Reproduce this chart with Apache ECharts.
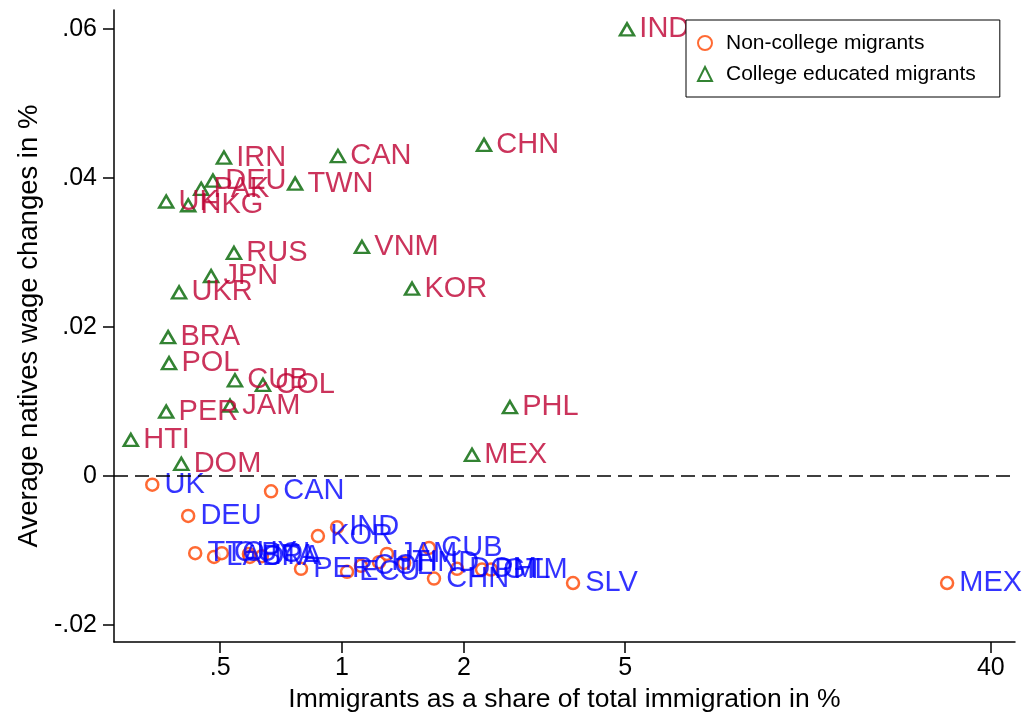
<!DOCTYPE html>
<html>
<head>
<meta charset="utf-8">
<script src="https://cdn.jsdelivr.net/npm/echarts@6/dist/echarts.min.js"></script>
<style>
  html, body { margin: 0; padding: 0; background: #fff; }
  #chart { width: 1023px; height: 718px; }
</style>
</head>
<body>
<div id="chart"></div>
<script>
// non-college migrants (circles, blue labels)
var ncNames = ['UK', 'CAN', 'DEU', 'IND', 'KOR', 'TTO', 'LAO', 'GUY', 'POL', 'BRA', 'ITA',
    'PER', 'ECU', 'COL', 'HTI', 'JAM', 'HND', 'CUB', 'CHN', 'DOM', 'PHL', 'GTM', 'SLV', 'MEX'];
var ncShare = [0.340, 0.668, 0.417, 0.972, 0.872, 0.434, 0.483, 0.505, 0.589, 0.592, 0.634,
    0.792, 1.029, 1.114, 1.234, 1.291, 1.423, 1.640, 1.687, 1.923, 2.217, 2.333, 3.719, 31.2];
var ncWage = [-0.0012, -0.0021, -0.0054, -0.0069, -0.0081, -0.0104, -0.0109, -0.0104, -0.0105, -0.0109, -0.0108,
    -0.0125, -0.0129, -0.0121, -0.0116, -0.0105, -0.0117, -0.0097, -0.0138, -0.0125, -0.0126, -0.0126, -0.0144, -0.0144];

// college educated migrants (triangles, red labels)
var colNames = ['IND', 'CHN', 'CAN', 'IRN', 'DEU', 'PAK', 'UK', 'HKG', 'TWN', 'RUS', 'VNM', 'JPN',
    'UKR', 'KOR', 'BRA', 'POL', 'CUB', 'COL', 'JAM', 'PER', 'PHL', 'HTI', 'DOM', 'MEX'];
var colShare = [5.055, 2.242, 0.977, 0.511, 0.480, 0.449, 0.368, 0.417, 0.766, 0.541, 1.120, 0.475,
    0.396, 1.489, 0.372, 0.374, 0.544, 0.638, 0.529, 0.368, 2.598, 0.301, 0.401, 2.094];
var colWage = [0.0599, 0.0444, 0.0429, 0.0427, 0.0396, 0.0385, 0.0368, 0.0363, 0.0392, 0.0299, 0.0307, 0.0268,
    0.0246, 0.0251, 0.0186, 0.0151, 0.0128, 0.0122, 0.0094, 0.0086, 0.0092, 0.0048, 0.0016, 0.0028];

var xTicks = [0.5, 1, 2, 5, 40];
var yTicks = [-0.02, 0, 0.02, 0.04, 0.06];

function pts(names, xs, ys) {
    return names.map(function (n, i) {
        return { name: n, value: [xs[i], ys[i]] };
    });
}

var myChart = echarts.init(document.getElementById('chart'));
var fontName = 'Liberation Sans, Arial, sans-serif';

var option = {
    backgroundColor: '#fff',
    animation: false,
    grid: {
        left: 114,
        right: 8,
        top: 10,
        height: 639
    },
    legend: {
        orient: 'vertical',
        left: 686,
        top: 20,
        padding: [11, 24, 11, 11],
        itemGap: 7,
        itemWidth: 14,
        itemHeight: 14,
        borderColor: '#000',
        borderWidth: 1,
        backgroundColor: '#fff',
        textStyle: {
            fontFamily: fontName,
            fontSize: 21,
            color: '#000',
            lineHeight: 24,
            padding: [0, 0, 0, 9]
        },
        data: ['Non-college migrants', 'College educated migrants']
    },
    xAxis: {
        type: 'log',
        min: 0.2735,
        max: 45.9,
        name: 'Immigrants as a share of total immigration in %',
        nameLocation: 'middle',
        nameGap: 41,
        nameTextStyle: { fontFamily: fontName, fontSize: 26.5, color: '#000' },
        axisLine: { onZero: false, lineStyle: { color: '#000', width: 1.5 } },
        axisTick: { length: 11, customValues: xTicks, lineStyle: { color: '#000', width: 1.5 } },
        axisLabel: {
            customValues: xTicks,
            margin: 14,
            fontFamily: fontName,
            fontSize: 25,
            color: '#000',
            formatter: function (v) { return v === 0.5 ? '.5' : String(v); }
        },
        splitLine: { show: false }
    },
    yAxis: {
        type: 'value',
        min: -0.02233,
        max: 0.0625,
        name: 'Average natives wage changes in %',
        nameLocation: 'middle',
        nameGap: 70,
        nameTextStyle: { fontFamily: fontName, fontSize: 27.5, color: '#000' },
        axisLine: { show: true, onZero: false, lineStyle: { color: '#000', width: 1.5 } },
        axisTick: { show: true, length: 11, customValues: yTicks, lineStyle: { color: '#000', width: 1.5 } },
        axisLabel: {
            customValues: yTicks,
            margin: 17,
            fontFamily: fontName,
            fontSize: 25,
            color: '#000',
            formatter: function (v) {
                if (Math.abs(v) < 1e-9) return '0';
                return (v < 0 ? '-' : '') + Math.abs(v).toFixed(2).replace(/^0/, '');
            }
        },
        splitLine: { show: false }
    },
    series: [
        {
            name: 'Non-college migrants',
            type: 'scatter',
            symbol: 'circle',
            symbolSize: 12,
            itemStyle: { color: '#fff', borderColor: '#ff4500', borderWidth: 2.5 },
            label: {
                show: true,
                position: 'right',
                distance: 5,
                formatter: '{b}',
                fontFamily: fontName,
                fontSize: 29,
                color: '#0000ff'
            },
            data: pts(ncNames, ncShare, ncWage),
            markLine: {
                silent: true,
                symbol: 'none',
                label: { show: false },
                lineStyle: { color: '#000', width: 1.5, type: [14, 7] },
                data: [{ yAxis: 0 }]
            }
        },
        {
            name: 'College educated migrants',
            type: 'scatter',
            symbol: 'triangle',
            symbolSize: [14, 12],
            itemStyle: { color: '#fff', borderColor: '#006400', borderWidth: 2.5 },
            label: {
                show: true,
                position: 'right',
                distance: 4,
                formatter: '{b}',
                fontFamily: fontName,
                fontSize: 29,
                color: '#be0032'
            },
            data: pts(colNames, colShare, colWage)
        }
    ]
};

myChart.setOption(option);
</script>
</body>
</html>
